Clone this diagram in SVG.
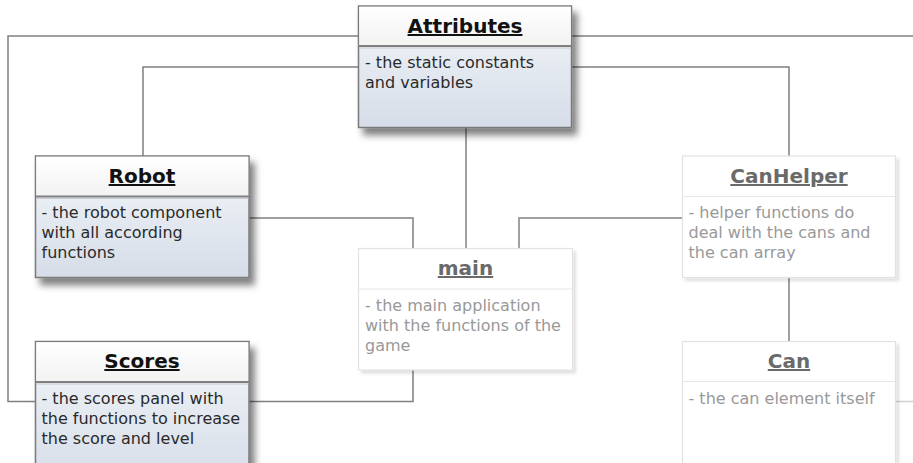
<svg xmlns="http://www.w3.org/2000/svg" width="913" height="463" viewBox="0 0 913 463">
<style>
.conn{fill:none;stroke:#808080;stroke-width:1.5}
.connf{fill:none;stroke:#a0a0a0;stroke-width:2}
.box{stroke:#7a7a7a;stroke-width:1.5}
.boxf{fill:#ffffff;stroke:#e2e2e2;stroke-width:1.2}
.div{stroke:#808080;stroke-width:2}
.divf{stroke:#e6e6e6;stroke-width:1.2}
.title{font-family:"DejaVu Sans",Verdana,sans-serif;font-size:20px;font-weight:bold;text-decoration:underline;fill:#111;text-anchor:middle}
.titlef{font-family:"DejaVu Sans",Verdana,sans-serif;font-size:20px;font-weight:bold;text-decoration:underline;fill:#6a6a6a;text-anchor:middle}
.body{font-family:"DejaVu Sans",Verdana,sans-serif;font-size:16px;fill:#2a2a2a}
.bodyf{font-family:"DejaVu Sans",Verdana,sans-serif;font-size:16px;fill:#999}
</style>
<defs>
<linearGradient id="gBody" x1="0" y1="0" x2="0" y2="1">
<stop offset="0" stop-color="#f3f6fa"/>
<stop offset="1" stop-color="#d6dde8"/>
</linearGradient>
<linearGradient id="gHead" x1="0" y1="0" x2="0" y2="1">
<stop offset="0" stop-color="#ffffff"/>
<stop offset="1" stop-color="#f2f2f2"/>
</linearGradient>
<filter id="sh" x="-10%" y="-10%" width="130%" height="130%">
<feDropShadow dx="5" dy="7" stdDeviation="3.5" flood-color="#000" flood-opacity="0.5"/>
</filter>
<filter id="shf" x="-10%" y="-10%" width="130%" height="130%">
<feDropShadow dx="3" dy="3" stdDeviation="1.5" flood-color="#000" flood-opacity="0.12"/>
</filter>
</defs>
<rect width="913" height="463" fill="#ffffff"/>
<g id="connectors">
<polyline class="conn" points="358.5,36 8,36 8,401.5 35.5,401.5"/>
<polyline class="conn" points="571.5,36 913,36"/>
<polyline class="conn" points="358.5,67 143,67 143,156"/>
<polyline class="conn" points="571.5,67 789,67 789,156"/>
<polyline class="conn" points="466,127.5 466,248.5"/>
<polyline class="conn" points="249,218 413,218 413,248.5"/>
<polyline class="connf" points="682.5,218 519,218 519,248.5"/>
<polyline class="conn" points="249,401.5 413,401.5 413,370"/>
<polyline class="connf" points="789,277.5 789,341.5"/>
<polyline class="conn" points="895.5,401.5 913,401.5" style="stroke:#d0d0d0"/>
</g>
<g id="Attributes">
<g filter="url(#sh)">
<rect x="358.5" y="6" width="213" height="121.5" fill="url(#gBody)" class="box"/>
</g>
<rect x="359.25" y="6.75" width="211.5" height="39" fill="url(#gHead)"/>
<line class="div" x1="358.5" y1="46" x2="571.5" y2="46"/>
<line stroke="#c8ccd2" x1="359" y1="48" x2="571" y2="48"/>
<text class="title" x="465" y="33">Attributes</text>
<text class="body" x="365" y="68">- the static constants</text>
<text class="body" x="365" y="88">and variables</text>
</g>
<g id="Robot">
<g filter="url(#sh)">
<rect x="35.5" y="156" width="213.5" height="121.5" fill="url(#gBody)" class="box"/>
</g>
<rect x="36.25" y="156.75" width="212" height="39.5" fill="url(#gHead)"/>
<line class="div" x1="35.5" y1="196.5" x2="249" y2="196.5"/>
<line stroke="#c8ccd2" x1="36" y1="198.5" x2="248.5" y2="198.5"/>
<text class="title" x="142" y="183">Robot</text>
<text class="body" x="41.5" y="218">- the robot component</text>
<text class="body" x="41.5" y="238">with all according</text>
<text class="body" x="41.5" y="258">functions</text>
</g>
<g id="Scores">
<g filter="url(#sh)">
<rect x="35.5" y="341.5" width="213.5" height="140" fill="url(#gBody)" class="box"/>
</g>
<rect x="36.25" y="342.25" width="212" height="39.5" fill="url(#gHead)"/>
<line class="div" x1="35.5" y1="382" x2="249" y2="382"/>
<line stroke="#c8ccd2" x1="36" y1="384" x2="248.5" y2="384"/>
<text class="title" x="142" y="368">Scores</text>
<text class="body" x="41.5" y="403.5">- the scores panel with</text>
<text class="body" x="41.5" y="423.5">the functions to increase</text>
<text class="body" x="41.5" y="443.5">the score and level</text>
</g>
<g id="main">
<rect x="358.5" y="248.5" width="214" height="121.5" class="boxf" filter="url(#shf)"/>
<line class="divf" x1="358.5" y1="289" x2="572.5" y2="289"/>
<text class="titlef" x="465.5" y="275">main</text>
<text class="bodyf" x="365" y="310.5">- the main application</text>
<text class="bodyf" x="365" y="330.5">with the functions of the</text>
<text class="bodyf" x="365" y="350.5">game</text>
</g>
<g id="CanHelper">
<rect x="682.5" y="156" width="213" height="121.5" class="boxf" filter="url(#shf)"/>
<line class="divf" x1="682.5" y1="196.5" x2="895.5" y2="196.5"/>
<text class="titlef" x="789" y="183">CanHelper</text>
<text class="bodyf" x="688.5" y="218">- helper functions do</text>
<text class="bodyf" x="688.5" y="238">deal with the cans and</text>
<text class="bodyf" x="688.5" y="258">the can array</text>
</g>
<g id="Can">
<rect x="682.5" y="341.5" width="213" height="140" class="boxf" filter="url(#shf)"/>
<line class="divf" x1="682.5" y1="381.5" x2="895.5" y2="381.5"/>
<text class="titlef" x="789" y="368">Can</text>
<text class="bodyf" x="688.5" y="403.5">- the can element itself</text>
</g>
</svg>
